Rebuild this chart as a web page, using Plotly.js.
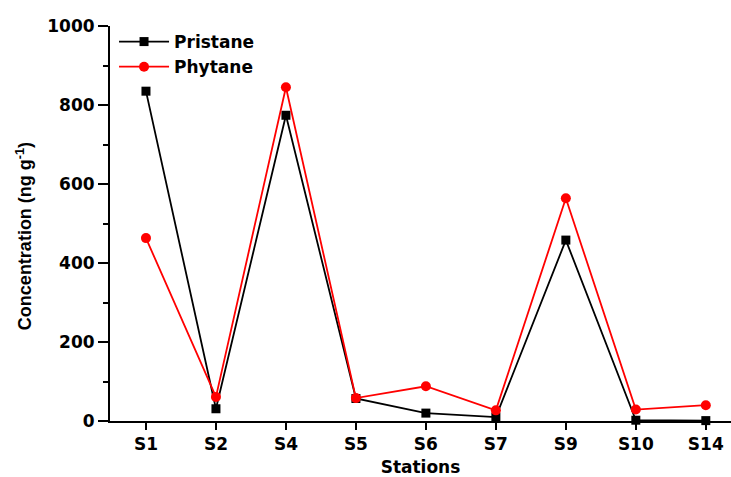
<!DOCTYPE html>
<html><head><meta charset="utf-8">
<script src="https://cdn.plot.ly/plotly-3.0.1.min.js"></script>
<style>html,body{margin:0;padding:0;background:#fff;overflow:hidden}</style>
</head><body><div id="chart" style="width:731px;height:477px"></div>
<script>
const stations = ["S1","S2","S4","S5","S6","S7","S9","S10","S14"];
const pristane = [835, 31, 774, 57, 20, 10, 458, 2, 1];
const phytane  = [463, 61, 845, 58, 88, 27, 564, 29, 40];
const xTitle = "Stations";
const yTitle = "Concentration (ng g<sup>-1</sup>)";

const wideFont = "DejaVu Sans, sans-serif";
const narrowFont = "Liberation Sans, Arial, sans-serif";
const traces = [
  {x: stations, y: pristane, name: "Pristane", type: "scatter", mode: "lines+markers",
   line: {color: "#000000", width: 1.8}, marker: {symbol: "square", size: 9, color: "#000000"}, cliponaxis: false},
  {x: stations, y: phytane, name: "Phytane", type: "scatter", mode: "lines+markers",
   line: {color: "#ff0000", width: 1.8}, marker: {symbol: "circle", size: 10, color: "#ff0000"}, cliponaxis: false}
];
const layout = {
  width: 731, height: 477,
  margin: {l: 110, r: 0, t: 26, b: 56},
  paper_bgcolor: "#fff", plot_bgcolor: "#fff",
  font: {family: wideFont, color: "#000"},
  showlegend: true,
  legend: {x: 0.0065, y: 1.005, xanchor: "left", yanchor: "top", bgcolor: "rgba(0,0,0,0)",
           itemwidth: 50,
           font: {size: 17, family: wideFont, weight: "bold"}, tracegroupgap: 0},
  xaxis: {
    type: "category", range: [-0.514, 8.36],
    showline: true, linecolor: "#000", linewidth: 2, mirror: false,
    showgrid: false, zeroline: false,
    ticks: "outside", ticklen: 7, tickwidth: 2, tickcolor: "#000",
    tickfont: {size: 17, family: wideFont, weight: "bold"},
    title: {text: xTitle, font: {size: 17, family: wideFont, weight: "bold"}, standoff: 9}
  },
  yaxis: {
    range: [0, 1000], tickvals: [0,200,400,600,800,1000],
    showline: true, linecolor: "#000", linewidth: 2,
    showgrid: false, zeroline: false,
    ticks: "outside", ticklen: 10, tickwidth: 2, tickcolor: "#000",
    minor: {tickvals: [100,300,500,700,900], ticks: "outside", ticklen: 5, tickwidth: 2, tickcolor: "#000", showgrid: false},
    tickfont: {size: 17, family: wideFont, weight: "bold"}
  },
  annotations: [{
    text: yTitle, textangle: -90, showarrow: false,
    xref: "paper", yref: "paper", x: -0.1385, y: 0.468, xanchor: "center", yanchor: "middle",
    font: {size: 18, family: narrowFont, weight: "bold", color: "#000"}
  }]
};
Plotly.newPlot("chart", traces, layout, {displayModeBar: false, staticPlot: true});
</script></body></html>
